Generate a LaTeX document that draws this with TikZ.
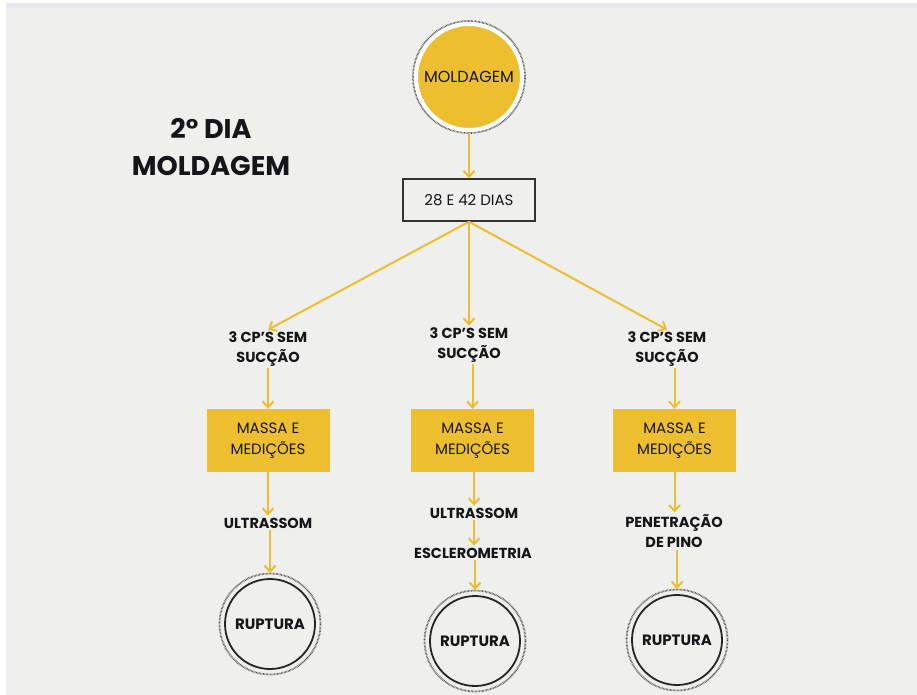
\documentclass[tikz,border=0pt]{standalone}
\usepackage{fontspec}
\setmainfont{Poppins}
\definecolor{mostarda}{RGB}{236,190,48}
\definecolor{fundo}{RGB}{239,239,237}
\definecolor{faixa}{RGB}{232,232,238}
\definecolor{tinta}{RGB}{22,22,26}
\usetikzlibrary{arrows.meta,positioning}

\begin{document}
\begin{tikzpicture}[x=1pt,y=-1pt,
    seta/.style={draw=mostarda, line width=2pt, -{Straight Barb[length=6pt,width=11pt]}},
    rotulo/.style={align=center, text=tinta, font=\fontsize{14.5}{19.5}\selectfont\bfseries, inner sep=2pt},
    caixa/.style={fill=mostarda, minimum width=123pt, minimum height=63pt, align=center, text=tinta, font=\fontsize{15}{21}\selectfont},
    ruptura/.style={circle, draw=black!85, line width=1.8pt, minimum size=90pt, outer sep=6pt, text=tinta, font=\fontsize{15}{17}\selectfont\bfseries},
    pontos/.style={draw=black!70, line width=1.8pt, dash pattern=on 0.6pt off 0.8pt}]

    % fundo
    \fill[white] (0,0) rectangle (917,695);
    \fill[faixa] (6,3) rectangle (917,8);
    \fill[fundo] (6,8) rectangle (917,695);

    % titulo
    \node[align=center, text=tinta, font=\fontsize{27}{37}\selectfont\bfseries] (titulo) at (211,147) {2° DIA\\MOLDAGEM};

    % topo
    \draw[pontos] (469,77) circle[radius=56pt];
    \node[circle, fill=mostarda, draw=white, line width=4pt, minimum size=106pt, outer sep=3.5pt,
          text=tinta, font=\fontsize{16}{18}\selectfont] (moldagem) at (469,77) {MOLDAGEM};
    \node[draw=black!80, line width=1.5pt, minimum width=132pt, minimum height=42pt,
          text=tinta, font=\fontsize{15}{17}\selectfont] (dias) at (469,200) {28 E 42 DIAS};
    \draw[seta] (moldagem) -- (dias);

    % tres ramos
    \node[rotulo] (cp1) at (268,349) {3 CP'S SEM\\SUCÇÃO};
    \node[rotulo] (cp2) at (469,345) {3 CP'S SEM\\SUCÇÃO};
    \node[rotulo] (cp3) at (667,349) {3 CP'S SEM\\SUCÇÃO};
    \foreach \i in {1,2,3}
        \draw[seta] (dias.south) -- (cp\i.north);

    \node[caixa] (mm1) at (268,440.5) {MASSA E\\MEDIÇÕES};
    \node[caixa] (mm2) at (472.5,440.5) {MASSA E\\MEDIÇÕES};
    \node[caixa] (mm3) at (674.5,440.5) {MASSA E\\MEDIÇÕES};
    \foreach \i in {1,2,3}
        \draw[seta] (cp\i.south -| mm\i.north) -- (mm\i.north);

    % ensaios
    \node[rotulo] (us1) at (268,523) {ULTRASSOM};
    \node[rotulo] (us2) at (474,513) {ULTRASSOM};
    \node[rotulo] (esc) at (473,553) {ESCLEROMETRIA};
    \node[rotulo] (pen) at (674,531) {PENETRAÇÃO\\DE PINO};
    \draw[seta] (mm1.south) -- (us1.north -| mm1.south);
    \draw[seta] (mm2.south -| us2.north) -- (us2.north);
    \draw[seta] (us2) -- (esc.north -| us2.south);
    \draw[seta] (mm3.south) -- (pen.north -| mm3.south);

    % ruptura
    \node[ruptura] (rup1) at (270,624) {RUPTURA};
    \node[ruptura] (rup2) at (475,641) {RUPTURA};
    \node[ruptura] (rup3) at (677,640) {RUPTURA};
    \foreach \i in {1,2,3}
        \draw[pontos] (rup\i.center) circle[radius=50.5pt];
    \draw[seta] (us1.south -| rup1.north) -- (rup1.north);
    \draw[seta] (esc.south -| rup2.north) -- (rup2.north);
    \draw[seta] (pen.south -| rup3.north) -- (rup3.north);
\end{tikzpicture}
\end{document}
